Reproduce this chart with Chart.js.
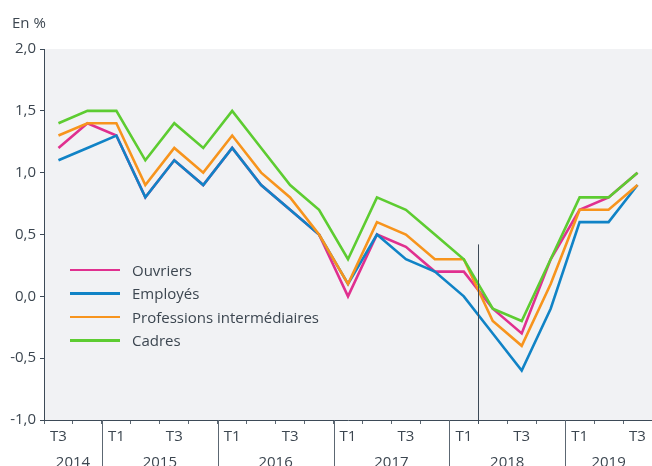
<!DOCTYPE html>
<html>
<head>
<meta charset="utf-8">
<script src="https://cdn.jsdelivr.net/npm/chart.js@4"></script>
<style>
    body { margin: 0; background: #fff; font-family: 'Open Sans', sans-serif; }
    #wrap { position: relative; width: 652px; height: 466px; }
    #unit { position: absolute; left: 12px; top: 12px; font-size: 15px; color: #3c4650; }
    #legend { position: absolute; left: 70px; top: 258px; font-size: 15px; color: #3c4650; }
    .item { height: 23.5px; display: flex; align-items: center; }
    .swatch { width: 50px; height: 2.5px; margin-right: 12px; }
</style>
</head>
<body>
<div id="wrap">
    <canvas id="myChart" width="652" height="466"></canvas>
    <div id="unit">En %</div>
    <div id="legend"></div>
</div>
<script>
var quarters = ['T3', 'T4',
    'T1', 'T2', 'T3', 'T4',
    'T1', 'T2', 'T3', 'T4',
    'T1', 'T2', 'T3', 'T4',
    'T1', 'T2', 'T3', 'T4',
    'T1', 'T2', 'T3'];
var years = ['2014', '2015', '2016', '2017', '2018', '2019'];
var quartersPerYear = [2, 4, 4, 4, 4, 3];

var ouvriers = [1.2, 1.4, 1.3, 0.8, 1.1, 0.9, 1.2, 0.9, 0.7, 0.5, 0.0, 0.5, 0.4, 0.2, 0.2, -0.1, -0.3, 0.3, 0.7, 0.8, 1.0];
var employes = [1.1, 1.2, 1.3, 0.8, 1.1, 0.9, 1.2, 0.9, 0.7, 0.5, 0.1, 0.5, 0.3, 0.2, 0.0, -0.3, -0.6, -0.1, 0.6, 0.6, 0.9];
var professions = [1.3, 1.4, 1.4, 0.9, 1.2, 1.0, 1.3, 1.0, 0.8, 0.5, 0.1, 0.6, 0.5, 0.3, 0.3, -0.2, -0.4, 0.1, 0.7, 0.7, 0.9];
var cadres = [1.4, 1.5, 1.5, 1.1, 1.4, 1.2, 1.5, 1.2, 0.9, 0.7, 0.3, 0.8, 0.7, 0.5, 0.3, -0.1, -0.2, 0.3, 0.8, 0.8, 1.0];

var seriesNames = ['Ouvriers', 'Employés', 'Professions intermédiaires', 'Cadres'];
var seriesColors = ['#e0308f', '#1083c6', '#f7941d', '#5dcc31'];

// rupture de série entre 2018 T1 et T2
var breakAfter = 14;
var breakTop = 0.42;

var textColor = '#3c4650';
var axisColor = '#3d4a57';

var plotBg = {
    id: 'plotBg',
    beforeDraw(chart) {
        let a = chart.chartArea;
        let ctx = chart.ctx;
        ctx.save();
        ctx.fillStyle = '#f1f2f4';
        ctx.fillRect(a.left, a.top, a.right - a.left, a.bottom - a.top);
        ctx.restore();
    }
};

var yearAxis = {
    id: 'yearAxis',
    afterDraw(chart) {
        let x = chart.scales.x;
        let y = chart.scales.y;
        let ctx = chart.ctx;
        let half = (x.getPixelForValue(1) - x.getPixelForValue(0)) / 2;
        ctx.save();
        // séparateurs d'années
        let idx = 0;
        ctx.strokeStyle = '#5c6772';
        ctx.lineWidth = 1;
        for (let i = 0; i < years.length; i++) {
            let start = x.getPixelForValue(idx) - half;
            let end = x.getPixelForValue(idx + quartersPerYear[i] - 1) + half;
            if (i > 0) {
                ctx.beginPath();
                ctx.moveTo(Math.round(start) + 0.5, y.bottom);
                ctx.lineTo(Math.round(start) + 0.5, chart.height);
                ctx.stroke();
            }
            ctx.fillStyle = textColor;
            ctx.font = '15px "Open Sans"';
            ctx.textAlign = 'center';
            ctx.textBaseline = 'middle';
            ctx.fillText(years[i], (start + end) / 2, 463);
            idx += quartersPerYear[i];
        }
        // ligne verticale
        let bx = Math.round(x.getPixelForValue(breakAfter) + half) + 0.5;
        ctx.strokeStyle = axisColor;
        ctx.beginPath();
        ctx.moveTo(bx, y.getPixelForValue(breakTop));
        ctx.lineTo(bx, y.bottom + 4);
        ctx.stroke();
        ctx.restore();
    }
};

function makeDataset(i, data) {
    return {
        label: seriesNames[i],
        data: data,
        borderColor: seriesColors[i],
        borderWidth: 2.6,
        pointRadius: 0,
        tension: 0,
        fill: false,
        order: 4 - i
    };
}

var ctx = document.getElementById('myChart').getContext('2d');
var myChart = new Chart(ctx, {
    type: 'line',
    data: {
        labels: quarters,
        datasets: [
            makeDataset(0, ouvriers),
            makeDataset(1, employes),
            makeDataset(2, professions),
            makeDataset(3, cadres)
        ]
    },
    options: {
        responsive: false,
        animation: false,
        layout: { padding: { top: 49, right: 0, left: 0, bottom: 0 } },
        scales: {
            x: {
                offset: true,
                grid: {
                    offset: true,
                    drawOnChartArea: false,
                    tickLength: 4,
                    color: '#5c6772'
                },
                border: { color: axisColor, width: 1 },
                ticks: {
                    autoSkip: false,
                    maxRotation: 0,
                    padding: 4,
                    color: textColor,
                    font: { family: 'Open Sans', size: 15 },
                    callback: function (v, i) {
                        let q = quarters[i];
                        return (q === 'T1' || q === 'T3') ? q : '';
                    }
                },
                afterFit: function (s) { s.height = 46; }
            },
            y: {
                min: -1,
                max: 2,
                grid: {
                    drawOnChartArea: false,
                    tickLength: 4,
                    color: axisColor
                },
                border: { color: axisColor, width: 1 },
                ticks: {
                    stepSize: 0.5,
                    padding: 4,
                    color: textColor,
                    font: { family: 'Open Sans', size: 15 },
                    callback: function (v) { return v.toFixed(1).replace('.', ','); }
                },
                afterFit: function (s) { s.width = 44; }
            }
        },
        plugins: {
            legend: { display: false },
            tooltip: { enabled: false }
        }
    },
    plugins: [plotBg, yearAxis]
});

var legend = document.getElementById('legend');
seriesNames.forEach(function (name, i) {
    let row = document.createElement('div');
    row.className = 'item';
    let sw = document.createElement('span');
    sw.className = 'swatch';
    sw.style.background = seriesColors[i];
    let label = document.createElement('span');
    label.textContent = name;
    row.appendChild(sw);
    row.appendChild(label);
    legend.appendChild(row);
});
</script>
</body>
</html>
